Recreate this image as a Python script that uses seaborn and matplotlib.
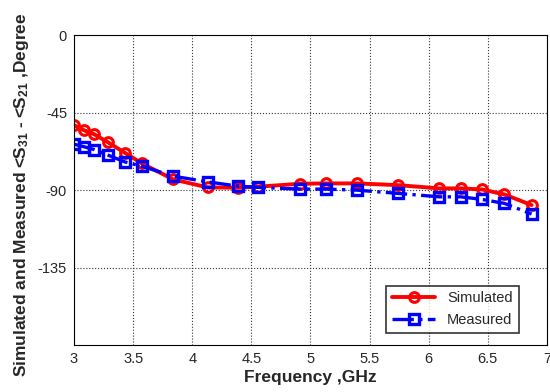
import numpy as np
import pandas as pd
import seaborn as sns
import matplotlib.pyplot as plt

# Data
freq = [3.0, 3.085, 3.17, 3.29, 3.43, 3.575, 3.84, 4.13, 4.39, 4.56,
        4.91, 5.13, 5.39, 5.74, 6.09, 6.27, 6.45, 6.64, 6.87]
simulated = [-52.3, -55.2, -57.5, -62.3, -68.3, -74.5, -83.8, -88.4, -88.6, -88.0,
             -86.3, -86.1, -86.1, -87.1, -89.0, -89.0, -89.6, -92.5, -98.7]
measured = [-63.3, -64.8, -66.4, -69.7, -73.6, -76.1, -81.9, -85.2, -87.7, -88.4,
            -89.4, -89.4, -90.0, -91.9, -93.9, -93.9, -95.4, -97.7, -103.9]

xticks = [3, 3.5, 4, 4.5, 5, 5.5, 6, 6.5, 7]
xticklabels = ['3', '3.5', '4', '4.5', '5', '5.5', '6', '6.5', '7']
yticks = [-135, -90, -45, 0]

df = pd.DataFrame({'freq': freq, 'Simulated': simulated, 'Measured': measured})

sns.set_style('white')
plt.rcParams['font.family'] = ['Liberation Sans', 'DejaVu Sans']
plt.rcParams['axes.unicode_minus'] = False
plt.rcParams['mathtext.fontset'] = 'custom'
plt.rcParams['mathtext.rm'] = 'Liberation Sans:bold'
plt.rcParams['mathtext.it'] = 'Liberation Sans:bold'
plt.rcParams['mathtext.bf'] = 'Liberation Sans:bold'

fig = plt.figure(figsize=(5.5, 3.92), dpi=100)
ax = fig.add_axes([0.1345, 0.12, 0.86, 0.79])

sns.lineplot(data=df, x='freq', y='Simulated', ax=ax, color='red', lw=2.8,
             marker='o', ms=7, mfc='none', mec='red', mew=2.2, label='Simulated')
sns.lineplot(data=df, x='freq', y='Measured', ax=ax, color='blue', lw=2.4,
             linestyle='-.', marker='s', ms=7, mfc='none', mec='blue', mew=2.4,
             label='Measured')

ax.set_xlim(3, 7)
ax.set_ylim(-180, 0)
ax.set_xticks(xticks)
ax.set_xticklabels(xticklabels)
ax.set_yticks(yticks)
ax.tick_params(direction='in', length=4, labelsize=10.5, color='black', pad=5)
ax.grid(True, color='0.2', linestyle=':', linewidth=0.8)
for s in ax.spines.values():
    s.set_color('black')
    s.set_linewidth(0.8)

ax.set_xlabel('Frequency ,GHz', fontsize=12.5, fontweight='bold', labelpad=3)
ax.set_ylabel(r'Simulated and Measured <S$_{31}$ - <S$_{21}$ ,Degree',
              fontsize=12.5, fontweight='bold')
ax.yaxis.set_label_coords(-0.09, 0.485)

leg = ax.legend(loc='lower right', bbox_to_anchor=(0.94, 0.04), borderaxespad=0,
                fontsize=10.5, frameon=True, fancybox=False, handlelength=3)
leg.get_frame().set_edgecolor('black')
leg.get_frame().set_linewidth(1.2)

fig.savefig('out.png', dpi=100)
